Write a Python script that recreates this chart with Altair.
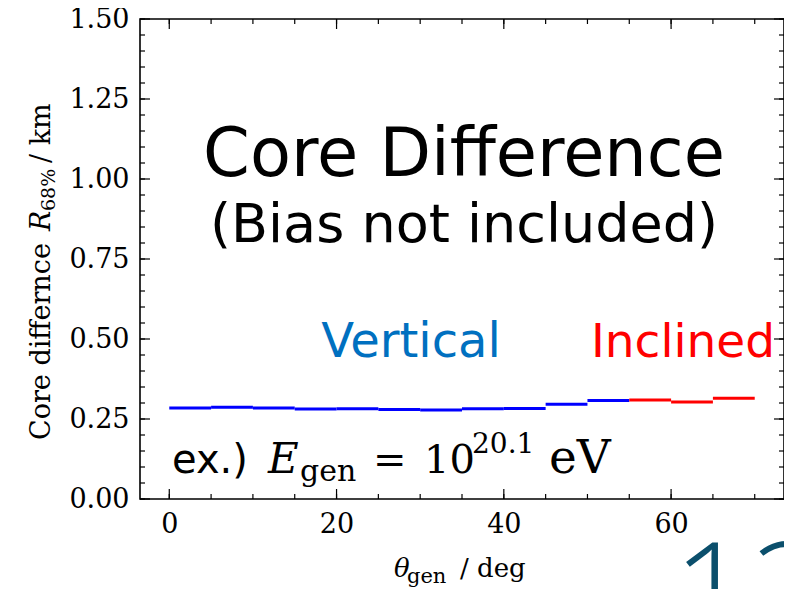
import altair as alt
import pandas as pd

# ---- data ----
bin_start = [0, 5, 10, 15, 20, 25, 30, 35, 40, 45, 50, 55, 60, 65]
bin_end = [5, 10, 15, 20, 25, 30, 35, 40, 45, 50, 55, 60, 65, 70]
core_diff = [0.284, 0.287, 0.284, 0.281, 0.282, 0.280, 0.278, 0.282, 0.283,
             0.296, 0.308, 0.309, 0.303, 0.315]
series = ["Vertical"] * 11 + ["Inclined"] * 3

x_major = [0, 20, 40, 60]
x_minor = [0, 5, 10, 15, 20, 25, 30, 35, 40, 45, 50, 55, 60, 65, 70]
y_major = [0.0, 0.25, 0.5, 0.75, 1.0, 1.25, 1.5]
y_minor = [round(0.05 * i, 2) for i in range(31)]

W, H = 644, 480
XDOM = [-3.5, 73.5]
YDOM = [0, 1.5]
SERIF = "DejaVu Serif"
SANS = "DejaVu Sans"
NB = "\u00a0"

df = pd.DataFrame({"start": bin_start, "end": bin_end, "val": core_diff, "series": series})

xs = alt.Scale(domain=XDOM, nice=False, zero=False)
ys = alt.Scale(domain=YDOM, nice=False, zero=False)

steps = alt.Chart(df).mark_rule(strokeWidth=3).encode(
    x=alt.X("start:Q", scale=xs,
            axis=alt.Axis(values=x_major, format="d", ticks=False, domain=False, grid=False,
                          labelFont=SERIF, labelFontSize=27, labelColor="black",
                          labelPadding=12, title=None)),
    x2="end:Q",
    y=alt.Y("val:Q", scale=ys,
            axis=alt.Axis(values=y_major, format=".2f", ticks=False, domain=False, grid=False,
                          labelFont=SERIF, labelFontSize=27, labelColor="black",
                          labelPadding=11, title=None)),
    color=alt.Color("series:N", scale=alt.Scale(domain=["Vertical", "Inclined"],
                                                  range=["#0000ff", "#ff0000"]), legend=None),
)

def xticks(vals, length):
    d = pd.DataFrame({"v": vals})
    b = alt.Chart(d).mark_rule(color="black", strokeWidth=1.2)
    bottom = b.encode(x=alt.X("v:Q", scale=xs), y=alt.value(H), y2=alt.value(H - length))
    top = b.encode(x=alt.X("v:Q", scale=xs), y=alt.value(0), y2=alt.value(length))
    return bottom + top

def yticks(vals, length):
    d = pd.DataFrame({"v": vals})
    b = alt.Chart(d).mark_rule(color="black", strokeWidth=1.2)
    left = b.encode(y=alt.Y("v:Q", scale=ys), x=alt.value(0), x2=alt.value(length))
    right = b.encode(y=alt.Y("v:Q", scale=ys), x=alt.value(W), x2=alt.value(W - length))
    return left + right

def txt(s, px, py, size, font=SANS, color="black", align="left", baseline="alphabetic",
        angle=0, style="normal", weight="normal"):
    d = pd.DataFrame({"t": [s]})
    kw = dict(font=font, fontSize=size, color=color, align=align, baseline=baseline,
              fontStyle=style, fontWeight=weight)
    if angle:
        kw["angle"] = angle
    return alt.Chart(d).mark_text(**kw).encode(text="t:N", x=alt.value(px), y=alt.value(py))

# positions below are pixels relative to the plot's top-left corner (page 140, 19)
texts = [
    txt("Core Difference", 324, 157, 67, align="center"),
    txt("(Bias not included)", 324, 223, 54, align="center"),
    txt("Vertical", 271, 338, 48, color="#0070c0", align="center"),
    txt("Inclined", 543, 338, 47, color="#ff0000", align="center"),
    # ex.) E_gen = 10^20.1 eV
    txt("ex.)", 32, 454, 40),
    txt("E", 128, 454, 42, font=SERIF, style="italic"),
    txt("gen", 160, 462, 30, font=SERIF),
    txt("=", 233, 454, 40, font=SERIF),
    txt("10", 284, 454, 40, font=SERIF),
    txt("20.1", 332, 434, 28, font=SERIF),
    txt("eV", 409, 454, 47, font=SERIF),
    # x title
    txt("\u03b8", 254, 558, 26, font=SERIF, style="italic"),
    txt("gen", 267, 564, 21, font=SERIF),
    txt("/" + NB + "deg", 320, 558, 26, font=SERIF),
    # y title (rotated)
    txt("Core" + NB + "differnce", -90, 421, 27, font=SERIF, angle=270),
    txt("R", -90, 212, 27, font=SERIF, style="italic", angle=270),
    txt("68%", -85, 192, 19, font=SERIF, angle=270),
    txt("/" + NB + "km", -90, 144, 27, font=SERIF, angle=270),
    # faint side text and slide number
    txt("Cumulative fraction", -135, 189, 7, color="#b0b0b0", align="center", angle=270),
    txt("12", 533, 620, 135, font="Open Sans", color="#0b4f6c", weight=300),
]

chart = alt.layer(
    steps,
    xticks(x_minor, 5), xticks(x_major, 10),
    yticks(y_minor, 5), yticks(y_major, 10),
    *texts,
).properties(
    width=W, height=H,
    autosize=alt.AutoSizeParams(type="none"),
    padding={"left": 132, "top": 11, "right": 0, "bottom": 90},
).configure_view(stroke="black", strokeWidth=1.6)

chart.save("out.html", embed_options={"renderer": "svg", "actions": False})
